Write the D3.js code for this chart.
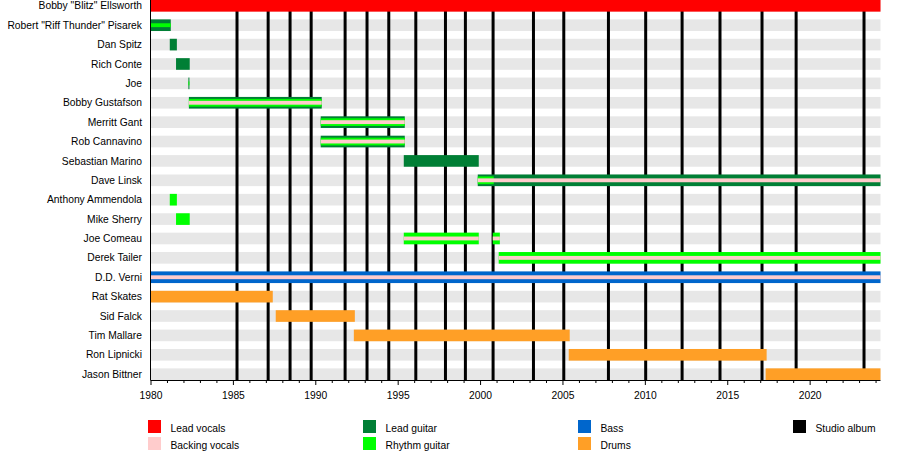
<!DOCTYPE html>
<html>
<head>
<meta charset="utf-8">
<script src="https://cdn.jsdelivr.net/npm/d3@7"></script>
<style>
  html, body { margin: 0; padding: 0; background: #fff; }
  svg { display: block; font-family: "Liberation Sans", Arial, sans-serif; }
</style>
</head>
<body>
<svg id="chart" width="900" height="458"></svg>
<script>
// ---------------- data ----------------
const members = [
  'Bobby "Blitz" Ellsworth', 'Robert "Riff Thunder" Pisarek', 'Dan Spitz', 'Rich Conte', 'Joe',
  'Bobby Gustafson', 'Merritt Gant', 'Rob Cannavino', 'Sebastian Marino', 'Dave Linsk',
  'Anthony Ammendola', 'Mike Sherry', 'Joe Comeau', 'Derek Tailer', 'D.D. Verni',
  'Rat Skates', 'Sid Falck', 'Tim Mallare', 'Ron Lipnicki', 'Jason Bittner'
];
const roles = ["Lead vocals", "Backing vocals", "Lead guitar", "Rhythm guitar", "Bass", "Drums"];
const roleColors = ["#ff0000", "#ffcccc", "#007f35", "#00ff00", "#0066cc", "#ff9f26"];
const legendColumns = [["Lead vocals", "Backing vocals"], ["Lead guitar", "Rhythm guitar"], ["Bass", "Drums"], ["Studio album"]];

const startYear = 1980, endYear = 2024.3;
// [member, role, from, to, tier]  tier: 0 = full bar, 1 = middle stripe, 2 = inner stripe
const periods = [
  ['Bobby "Blitz" Ellsworth', "Lead vocals", 1980, 2024.3, 0],
  ['Robert "Riff Thunder" Pisarek', "Lead guitar", 1980, 1981.23, 0],
  ['Robert "Riff Thunder" Pisarek', "Rhythm guitar", 1980, 1981.23, 2],
  ["Dan Spitz", "Lead guitar", 1981.17, 1981.6, 0],
  ["Rich Conte", "Lead guitar", 1981.55, 1982.38, 0],
  ["Joe", "Lead guitar", 1982.30, 1982.36, 0],
  ["Joe", "Rhythm guitar", 1982.30, 1982.36, 2],
  ["Bobby Gustafson", "Lead guitar", 1982.33, 1990.39, 0],
  ["Bobby Gustafson", "Rhythm guitar", 1982.33, 1990.39, 1],
  ["Bobby Gustafson", "Backing vocals", 1982.33, 1990.39, 2],
  ["Merritt Gant", "Lead guitar", 1990.33, 1995.43, 0],
  ["Merritt Gant", "Rhythm guitar", 1990.33, 1995.43, 1],
  ["Merritt Gant", "Backing vocals", 1990.33, 1995.43, 2],
  ["Rob Cannavino", "Lead guitar", 1990.33, 1995.43, 0],
  ["Rob Cannavino", "Rhythm guitar", 1990.33, 1995.43, 1],
  ["Rob Cannavino", "Backing vocals", 1990.33, 1995.43, 2],
  ["Sebastian Marino", "Lead guitar", 1995.37, 1999.92, 0],
  ["Dave Linsk", "Lead guitar", 1999.86, 2024.3, 0],
  ["Dave Linsk", "Rhythm guitar", 1999.86, 2000.83, 1],
  ["Dave Linsk", "Backing vocals", 1999.86, 2024.3, 2],
  ["Anthony Ammendola", "Rhythm guitar", 1981.17, 1981.6, 0],
  ["Mike Sherry", "Rhythm guitar", 1981.55, 1982.38, 0],
  ["Joe Comeau", "Rhythm guitar", 1995.37, 1999.92, 0],
  ["Joe Comeau", "Backing vocals", 1995.37, 1999.92, 2],
  ["Joe Comeau", "Rhythm guitar", 2000.77, 2001.2, 0],
  ["Joe Comeau", "Backing vocals", 2000.77, 2001.2, 2],
  ["Derek Tailer", "Rhythm guitar", 2001.13, 2024.3, 0],
  ["Derek Tailer", "Backing vocals", 2001.13, 2024.3, 2],
  ["D.D. Verni", "Bass", 1980, 2024.3, 0],
  ["D.D. Verni", "Backing vocals", 1980, 2024.3, 2],
  ["Rat Skates", "Drums", 1980, 1987.42, 0],
  ["Sid Falck", "Drums", 1987.6, 1992.4, 0],
  ["Tim Mallare", "Drums", 1992.34, 2005.44, 0],
  ["Ron Lipnicki", "Drums", 2005.38, 2017.39, 0],
  ["Jason Bittner", "Drums", 2017.33, 2024.3, 0]
];
const studioAlbums = [1985.25, 1987.14, 1988.47, 1989.75, 1991.81, 1993.14, 1994.46, 1996.10,
  1997.90, 1999.11, 2000.79, 2003.24, 2005.08, 2007.79, 2010.05, 2012.26, 2014.56, 2017.11,
  2019.18, 2023.30];
const majorTicks = [1980, 1985, 1990, 1995, 2000, 2005, 2010, 2015, 2020];
const minorTicks = d3.range(1980, 2025);

// ---------------- drawing ----------------
const svg = d3.select("#chart");
const plotLeft = 150.5, plotRight = 880.5, plotTop = 0, plotBottom = 380;
const fontSize = "10.3px";

const x = d3.scaleLinear().domain([startYear, endYear]).range([plotLeft, plotRight]);
const y = d3.scaleBand().domain(members).range([plotTop, plotBottom]).paddingInner(0.4).paddingOuter(0);
const color = d3.scaleOrdinal().domain(roles).range(roleColors);
const bw = y.bandwidth();
const tierFrac = [1, 2 / 3, 1 / 3];

// background bands
svg.append("g").selectAll("rect").data(members).join("rect")
  .attr("x", plotLeft).attr("width", plotRight - plotLeft)
  .attr("y", d => y(d)).attr("height", bw)
  .attr("fill", "#e7e7e7");

// studio album lines
svg.append("g").selectAll("line").data(studioAlbums).join("line")
  .attr("x1", d => x(d)).attr("x2", d => x(d))
  .attr("y1", plotTop).attr("y2", plotBottom)
  .attr("stroke", "#000").attr("stroke-width", 3);

// bars (sorted by tier so inner stripes are on top)
const sorted = periods.slice().sort((a, b) => a[4] - b[4]);
svg.append("g").selectAll("rect").data(sorted).join("rect")
  .attr("x", d => x(d[2]))
  .attr("width", d => Math.max(1, x(d[3]) - x(d[2])))
  .attr("y", d => y(d[0]) + bw * (1 - tierFrac[d[4]]) / 2)
  .attr("height", d => bw * tierFrac[d[4]])
  .attr("fill", d => color(d[1]));

// member labels
svg.append("g").selectAll("text").data(members).join("text")
  .attr("x", 142).attr("y", d => y(d) + bw / 2)
  .attr("dy", "0.35em")
  .attr("text-anchor", "end")
  .attr("font-size", fontSize)
  .attr("fill", "#000")
  .text(d => d);

// axes
const xAxis = d3.axisBottom(x).tickValues(majorTicks).tickFormat(d3.format("d")).tickSize(5).tickSizeOuter(0);
const gx = svg.append("g").attr("transform", `translate(0,${plotBottom})`).call(xAxis);
gx.select(".domain").remove();
gx.selectAll("text").attr("font-size", fontSize).attr("font-family", "Liberation Sans, Arial, sans-serif").attr("dy", "1.1em").attr("fill", "#000");
gx.selectAll("line").attr("stroke", "#000");
const minorAxis = d3.axisBottom(x).tickValues(minorTicks.filter(v => majorTicks.indexOf(v) < 0)).tickFormat("").tickSize(3).tickSizeOuter(0);
const gm = svg.append("g").attr("transform", `translate(0,${plotBottom})`).call(minorAxis);
gm.select(".domain").remove();
gm.selectAll("line").attr("stroke", "#000");

svg.append("line").attr("x1", plotLeft).attr("x2", plotRight).attr("y1", plotBottom + 0.5).attr("y2", plotBottom + 0.5)
  .attr("stroke", "#000").attr("stroke-width", 1);
svg.append("line").attr("x1", plotLeft).attr("x2", plotLeft).attr("y1", plotTop).attr("y2", plotBottom)
  .attr("stroke", "#000").attr("stroke-width", 1);

// legend
const legend = svg.append("g");
legendColumns.forEach((col, ci) => {
  col.forEach((name, ri) => {
    const lx = 148 + ci * 215, ly = 420 + ri * 17;
    legend.append("rect").attr("x", lx).attr("y", ly).attr("width", 13).attr("height", 13)
      .attr("fill", name === "Studio album" ? "#000" : color(name));
    legend.append("text").attr("x", lx + 22.5).attr("y", ly + 8).attr("dy", "0.35em")
      .attr("font-size", fontSize).attr("fill", "#000").text(name);
  });
});
</script>
</body>
</html>
